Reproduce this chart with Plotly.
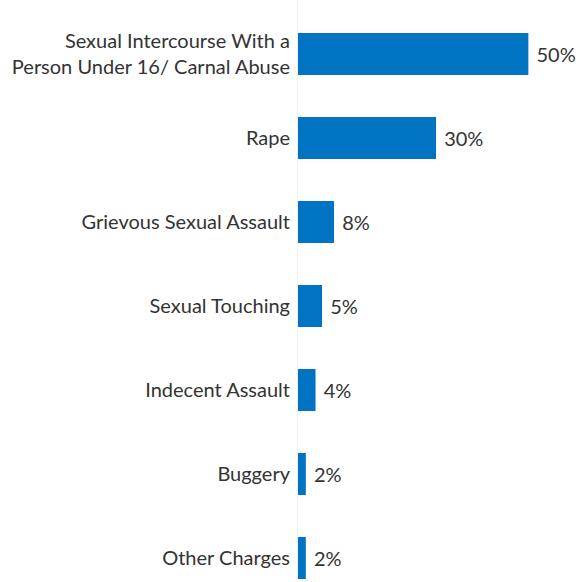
import plotly.graph_objects as go

categories = [
    "Sexual Intercourse With a<br>Person Under 16/ Carnal Abuse",
    "Rape",
    "Grievous Sexual Assault",
    "Sexual Touching",
    "Indecent Assault",
    "Buggery",
    "Other Charges",
]
values = [49.9, 29.9, 7.8, 5.2, 3.8, 1.7, 1.7]
labels = ["50%", "30%", "8%", "5%", "4%", "2%", "2%"]

FONT = "Lato"
SIZE = 20

fig = go.Figure(
    go.Bar(
        x=values,
        y=categories,
        orientation="h",
        marker=dict(color="#0074C3", line=dict(width=0)),
        width=0.5,
        text=[" " + t for t in labels],
        textposition="outside",
        constraintext="none",
        cliponaxis=False,
        textfont=dict(family=FONT, size=SIZE, color="#333333"),
        hoverinfo="skip",
    )
)

fig.update_layout(
    width=581,
    height=582,
    margin=dict(l=298, r=0, t=0, b=0, autoexpand=False),
    paper_bgcolor="white",
    plot_bgcolor="white",
    showlegend=False,
    font=dict(family=FONT, size=SIZE, color="#333333"),
    xaxis=dict(
        range=[0, 61.3],
        showgrid=False,
        zeroline=False,
        showticklabels=False,
        showline=False,
        fixedrange=True,
        automargin=False,
    ),
    yaxis=dict(
        type="category",
        categoryorder="array",
        categoryarray=categories,
        range=[6.286, -0.643],
        showgrid=False,
        zeroline=False,
        showline=True,
        linecolor="#EFEFEF",
        linewidth=1,
        ticks="",
        ticklabelstandoff=3,
        automargin=False,
        tickfont=dict(family=FONT, size=SIZE, color="#333333"),
    ),
)

fig.write_html("out.html")
